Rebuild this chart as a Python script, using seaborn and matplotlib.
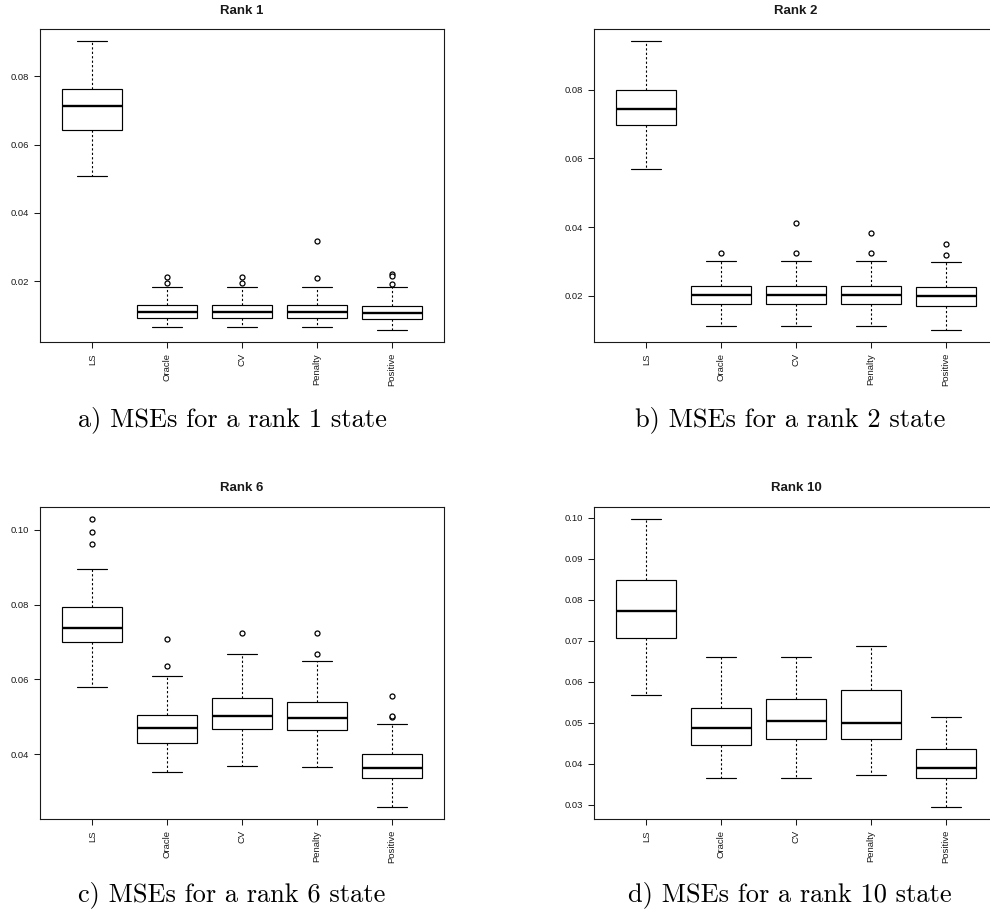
import numpy as np
import pandas as pd
import matplotlib
matplotlib.use("Agg")
import matplotlib.pyplot as plt
import seaborn as sns

methods = ["LS", "Oracle", "CV", "Penalty", "Positive"]

# ---- Rank 1 : lower whisker, Q1, median, Q3, upper whisker ----
r1_lo = [0.0507, 0.0065, 0.0065, 0.0065, 0.0056]
r1_q1 = [0.0642, 0.0093, 0.0093, 0.0093, 0.0090]
r1_med = [0.0714, 0.0109, 0.0109, 0.0109, 0.0108]
r1_q3 = [0.0764, 0.0130, 0.0130, 0.0130, 0.0127]
r1_hi = [0.0905, 0.0182, 0.0182, 0.0182, 0.0183]
r1_out_method = ["Oracle", "Oracle", "CV", "CV", "Penalty", "Penalty",
                 "Positive", "Positive", "Positive"]
r1_out_value = [0.0212, 0.0195, 0.0212, 0.0195, 0.0319, 0.0209,
                0.0222, 0.0216, 0.0193]

# ---- Rank 2 ----
r2_lo = [0.0570, 0.0111, 0.0111, 0.0111, 0.0099]
r2_q1 = [0.0696, 0.0177, 0.0177, 0.0177, 0.0169]
r2_med = [0.0744, 0.0202, 0.0202, 0.0202, 0.0198]
r2_q3 = [0.0799, 0.0227, 0.0227, 0.0229, 0.0226]
r2_hi = [0.0943, 0.0301, 0.0301, 0.0301, 0.0297]
r2_out_method = ["Oracle", "CV", "CV", "Penalty", "Penalty", "Positive", "Positive"]
r2_out_value = [0.0324, 0.0413, 0.0324, 0.0382, 0.0324, 0.0350, 0.0318]

# ---- Rank 6 ----
r6_lo = [0.0578, 0.0353, 0.0367, 0.0364, 0.0257]
r6_q1 = [0.0699, 0.0430, 0.0468, 0.0464, 0.0335]
r6_med = [0.0738, 0.0470, 0.0502, 0.0496, 0.0362]
r6_q3 = [0.0794, 0.0505, 0.0549, 0.0540, 0.0400]
r6_hi = [0.0894, 0.0609, 0.0667, 0.0650, 0.0479]
r6_out_method = ["LS", "LS", "LS", "Oracle", "Oracle", "CV", "Penalty", "Penalty",
                 "Positive", "Positive", "Positive"]
r6_out_value = [0.1030, 0.0995, 0.0963, 0.0707, 0.0636, 0.0724, 0.0724, 0.0667,
                0.0555, 0.0500, 0.0501]

# ---- Rank 10 ----
r10_lo = [0.0567, 0.0365, 0.0365, 0.0371, 0.0293]
r10_q1 = [0.0707, 0.0446, 0.0459, 0.0460, 0.0365]
r10_med = [0.0773, 0.0487, 0.0504, 0.0498, 0.0390]
r10_q3 = [0.0848, 0.0535, 0.0557, 0.0580, 0.0435]
r10_hi = [0.0998, 0.0661, 0.0661, 0.0686, 0.0513]
r10_out_method = []
r10_out_value = []

titles = ["Rank 1", "Rank 2", "Rank 6", "Rank 10"]
captions = ["a) MSEs for a rank 1 state", "b) MSEs for a rank 2 state",
            "c) MSEs for a rank 6 state", "d) MSEs for a rank 10 state"]
yticks_list = [[0.02, 0.04, 0.06, 0.08],
               [0.02, 0.04, 0.06, 0.08],
               [0.04, 0.06, 0.08, 0.10],
               [0.03, 0.04, 0.05, 0.06, 0.07, 0.08, 0.09, 0.10]]

sns.set_style("white")
plt.rcParams["font.family"] = ["Liberation Sans", "DejaVu Sans"]

W, H = 990, 913
fig = plt.figure(figsize=(W / 100, H / 100), dpi=100)

# axes boxes in pixels: left, top, right, bottom
boxes = [(40, 29, 444, 342), (594, 29, 998, 342),
         (40, 507, 444, 819), (594, 507, 998, 819)]
title_y = [10.5, 10.5, 488, 488]
caption_pos = [(232, 420), (790, 420), (232, 895), (790, 895)]

panels = [
    (r1_lo, r1_q1, r1_med, r1_q3, r1_hi, r1_out_method, r1_out_value),
    (r2_lo, r2_q1, r2_med, r2_q3, r2_hi, r2_out_method, r2_out_value),
    (r6_lo, r6_q1, r6_med, r6_q3, r6_hi, r6_out_method, r6_out_value),
    (r10_lo, r10_q1, r10_med, r10_q3, r10_hi, r10_out_method, r10_out_value),
]

ink = "#1a1a1a"

for i, (lo, q1, med, q3, hi, om, ov) in enumerate(panels):
    l, t, r, b = boxes[i]
    ax = fig.add_axes([l / W, 1 - b / H, (r - l) / W, (b - t) / H])

    rows = []
    for m, a, bq, c, d, e in zip(methods, lo, q1, med, q3, hi):
        for v in (a, bq, c, d, e):
            rows.append((m, v))
    df = pd.DataFrame(rows, columns=["method", "mse"])

    sns.boxplot(data=df, x="method", y="mse", order=methods, whis=(0, 100),
                width=0.8, color="white", linecolor="black", linewidth=0.85,
                showfliers=False, saturation=1,
                medianprops={"linewidth": 1.7, "color": "black"},
                whiskerprops={"linestyle": (0, (2.0, 2.0)), "linewidth": 0.8},
                capprops={"linewidth": 0.85},
                ax=ax)

    if len(ov) > 0:
        odf = pd.DataFrame({"method": om, "mse": ov})
        sns.stripplot(data=odf, x="method", y="mse", order=methods, jitter=False,
                      color="white", edgecolor="black", linewidth=0.9, size=3.6,
                      marker="o", ax=ax, zorder=4)

    allv = list(lo) + list(hi) + list(ov)
    vmin, vmax = min(allv), max(allv)
    pad = 0.04 * (vmax - vmin)
    ax.set_ylim(vmin - pad, vmax + pad)
    ax.set_xlim(-0.7, 4.7)

    yt = yticks_list[i]
    ax.set_yticks(yt)
    ax.set_yticklabels([f"{v:.2f}" for v in yt])
    ax.set_xticks(range(len(methods)))
    ax.set_xticklabels(methods, rotation=90, va="top", ha="center")
    ax.set_xlabel("")
    ax.set_ylabel("")
    ax.tick_params(axis="both", direction="out", length=4, width=0.75,
                   labelsize=6.8, colors=ink, pad=4)
    ax.tick_params(axis="both", left=True, bottom=True)
    for sp in ax.spines.values():
        sp.set_visible(True)
        sp.set_linewidth(0.8)
        sp.set_color(ink)

    cx = (l + r) / 2
    fig.text(cx / W, 1 - title_y[i] / H, titles[i], ha="center", va="center",
             fontsize=9.5, fontweight="bold", color=ink)
    px, py = caption_pos[i]
    fig.text(px / W, 1 - py / H, captions[i], ha="center", va="center",
             fontsize=19, family="cmr10", color="black")

fig.savefig("out.png", dpi=100)
